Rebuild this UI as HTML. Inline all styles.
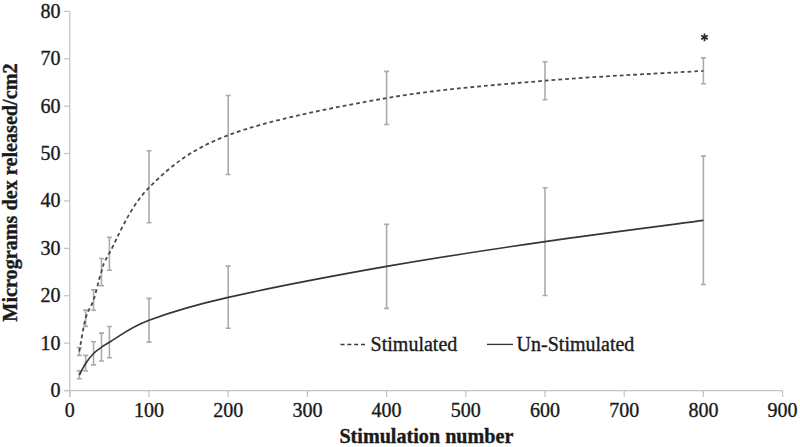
<!DOCTYPE html>
<html><head><meta charset="utf-8"><style>
html,body{margin:0;padding:0;background:#fff;}
body{width:800px;height:447px;overflow:hidden;}
svg{display:block;}
text{font-family:"Liberation Serif",serif;font-size:20px;fill:#1a1a1a;stroke:#1a1a1a;stroke-width:0.35px;}
</style></head><body>
<svg width="800" height="447" viewBox="0 0 800 447">
<g stroke="#c4c4c4" stroke-width="1.25" fill="none">
<path d="M69.8 11.4 V397"/>
<path d="M64 390.5 H782.6"/>
<path d="M64 390.50 H69.8"/><path d="M64 343.11 H69.8"/><path d="M64 295.72 H69.8"/><path d="M64 248.33 H69.8"/><path d="M64 200.94 H69.8"/><path d="M64 153.55 H69.8"/><path d="M64 106.16 H69.8"/><path d="M64 58.77 H69.8"/><path d="M64 11.38 H69.8"/><path d="M69.80 390.5 V397"/><path d="M149.00 390.5 V397"/><path d="M228.20 390.5 V397"/><path d="M307.40 390.5 V397"/><path d="M386.60 390.5 V397"/><path d="M465.80 390.5 V397"/><path d="M545.00 390.5 V397"/><path d="M624.20 390.5 V397"/><path d="M703.40 390.5 V397"/><path d="M782.60 390.5 V397"/>
</g>
<g stroke="#ababab" stroke-width="1.6" fill="none"><path d="M79.30 347.60 V355.40 M76.80 347.60 h5 M76.80 355.40 h5"/><path d="M79.30 370.70 V378.80 M76.80 370.70 h5 M76.80 378.80 h5"/><path d="M85.64 310.10 V326.40 M83.14 310.10 h5 M83.14 326.40 h5"/><path d="M85.64 355.40 V371.00 M83.14 355.40 h5 M83.14 371.00 h5"/><path d="M93.56 289.90 V310.20 M91.06 289.90 h5 M91.06 310.20 h5"/><path d="M93.56 341.80 V364.90 M91.06 341.80 h5 M91.06 364.90 h5"/><path d="M101.48 258.50 V285.60 M98.98 258.50 h5 M98.98 285.60 h5"/><path d="M101.48 333.10 V361.00 M98.98 333.10 h5 M98.98 361.00 h5"/><path d="M109.40 237.40 V270.20 M106.90 237.40 h5 M106.90 270.20 h5"/><path d="M109.40 326.50 V357.70 M106.90 326.50 h5 M106.90 357.70 h5"/><path d="M149.00 150.80 V222.80 M146.50 150.80 h5 M146.50 222.80 h5"/><path d="M149.00 298.40 V342.10 M146.50 298.40 h5 M146.50 342.10 h5"/><path d="M228.20 95.50 V174.50 M225.70 95.50 h5 M225.70 174.50 h5"/><path d="M228.20 266.10 V328.30 M225.70 266.10 h5 M225.70 328.30 h5"/><path d="M386.60 71.40 V124.50 M384.10 71.40 h5 M384.10 124.50 h5"/><path d="M386.60 224.40 V308.40 M384.10 224.40 h5 M384.10 308.40 h5"/><path d="M545.00 61.80 V99.70 M542.50 61.80 h5 M542.50 99.70 h5"/><path d="M545.00 187.80 V295.50 M542.50 187.80 h5 M542.50 295.50 h5"/><path d="M703.40 57.90 V83.80 M700.90 57.90 h5 M700.90 83.80 h5"/><path d="M703.40 156.10 V284.50 M700.90 156.10 h5 M700.90 284.50 h5"/></g>
<path d="M79.30 351.50 C80.36 345.95 83.26 326.78 85.64 318.20 C88.02 309.62 90.92 307.78 93.56 300.00 C96.20 292.22 98.84 279.33 101.48 271.50 C104.12 263.67 101.48 266.98 109.40 253.00 C117.32 239.02 129.20 207.23 149.00 187.60 C168.80 167.97 188.60 150.12 228.20 135.20 C267.80 120.28 333.80 107.18 386.60 98.10 C439.40 89.02 492.20 85.23 545.00 80.70 C597.80 76.17 677.00 72.53 703.40 70.90" fill="none" stroke="#4a4a4a" stroke-width="1.8" stroke-dasharray="3.8 3"/>
<path d="M79.30 375.20 C80.36 373.25 83.26 367.12 85.64 363.50 C88.02 359.88 90.92 356.20 93.56 353.50 C96.20 350.80 98.84 349.18 101.48 347.30 C104.12 345.42 101.48 346.70 109.40 342.20 C117.32 337.70 129.20 327.77 149.00 320.30 C168.80 312.83 188.60 306.38 228.20 297.40 C267.80 288.42 333.80 275.70 386.60 266.40 C439.40 257.10 492.20 249.27 545.00 241.60 C597.80 233.93 677.00 223.93 703.40 220.40" fill="none" stroke="#353535" stroke-width="1.65"/>
<g><text x="60.5" y="396.90" text-anchor="end">0</text><text x="60.5" y="349.51" text-anchor="end">10</text><text x="60.5" y="302.12" text-anchor="end">20</text><text x="60.5" y="254.73" text-anchor="end">30</text><text x="60.5" y="207.34" text-anchor="end">40</text><text x="60.5" y="159.95" text-anchor="end">50</text><text x="60.5" y="112.56" text-anchor="end">60</text><text x="60.5" y="65.17" text-anchor="end">70</text><text x="60.5" y="17.78" text-anchor="end">80</text></g>
<g><text x="69.80" y="417.2" text-anchor="middle">0</text><text x="149.00" y="417.2" text-anchor="middle">100</text><text x="228.20" y="417.2" text-anchor="middle">200</text><text x="307.40" y="417.2" text-anchor="middle">300</text><text x="386.60" y="417.2" text-anchor="middle">400</text><text x="465.80" y="417.2" text-anchor="middle">500</text><text x="545.00" y="417.2" text-anchor="middle">600</text><text x="624.20" y="417.2" text-anchor="middle">700</text><text x="703.40" y="417.2" text-anchor="middle">800</text><text x="782.60" y="417.2" text-anchor="middle">900</text></g>
<text x="426.4" y="443" text-anchor="middle" font-weight="bold" style="font-size:20.15px">Stimulation number</text>
<text transform="translate(17 192.55) rotate(-90)" text-anchor="middle" font-weight="bold" style="font-size:20.2px">Micrograms dex released/cm2</text>
<path d="M340.5 344.5 H365.3" stroke="#3a3a3a" stroke-width="1.3" stroke-dasharray="4 2.85" fill="none"/>
<text x="370.6" y="350.7">Stimulated</text>
<path d="M487 344.4 H513" stroke="#333" stroke-width="1.3" fill="none"/>
<text x="516.6" y="350.7">Un-Stimulated</text>
<g stroke="#2a2a2a" stroke-width="1.7"><path d="M704.5 33.6 V41.2 M701.21 35.5 L707.79 39.3 M701.21 39.3 L707.79 35.5"/></g>
</svg>
</body></html>
